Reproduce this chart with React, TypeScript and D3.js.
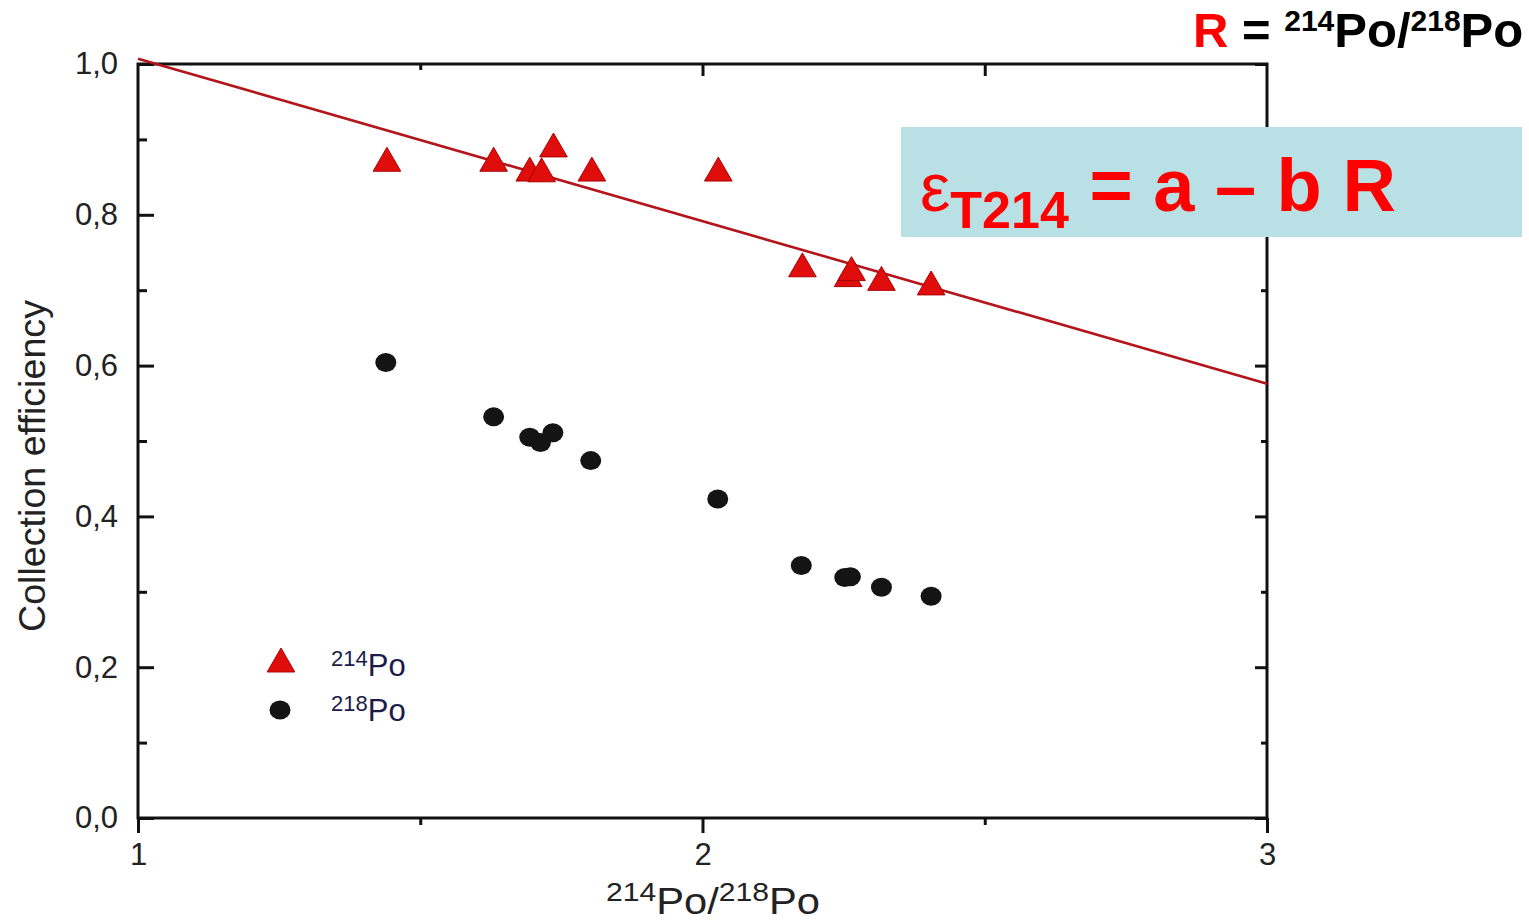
import React, { useEffect, useRef } from 'react';
import * as d3 from 'd3';

// ratio 214Po/218Po
const ratioPo214 = [1.441, 1.630, 1.694, 1.715, 1.736, 1.804, 2.028, 2.177, 2.258, 2.264, 2.317, 2.405];
const effPo214 = [0.871, 0.871, 0.858, 0.857, 0.890, 0.858, 0.858, 0.731, 0.718, 0.726, 0.713, 0.707];

const ratioPo218 = [1.439, 1.630, 1.694, 1.713, 1.735, 1.802, 2.027, 2.175, 2.252, 2.262, 2.317, 2.405];
const effPo218 = [0.604, 0.532, 0.505, 0.498, 0.511, 0.474, 0.423, 0.335, 0.319, 0.320, 0.306, 0.294];

// linear fit eps = a - b R
const fitA = 1.2225;
const fitB = 0.2155;

const xMajor = [1, 2, 3];
const xMinor = [1.5, 2.5];
const yMajor = [0, 0.2, 0.4, 0.6, 0.8, 1.0];
const yMinor = [0.1, 0.3, 0.5, 0.7, 0.9];

const W = 1529;
const H = 923;

export default function App() {
  const axesRef = useRef<SVGGElement>(null);

  const x = d3.scaleLinear().domain([1, 3]).range([138, 1267]);
  const y = d3.scaleLinear().domain([0, 1]).range([818, 64]);

  useEffect(() => {
    const g = d3.select(axesRef.current);
    g.selectAll('*').remove();
    const fmt = (d: number) => d.toFixed(1).replace('.', ',');

    // left axis, ticks inward
    const left = g.append('g').attr('transform', `translate(${x(1)},0)`);
    left.call(d3.axisLeft(y).tickValues(yMajor).tickSize(-16).tickPadding(20).tickFormat(fmt as any));
    left.append('g').call(d3.axisLeft(y).tickValues(yMinor).tickSize(-9).tickFormat(() => ''));

    // right axis, ticks inward
    const right = g.append('g').attr('transform', `translate(${x(3)},0)`);
    right.call(d3.axisRight(y).tickValues(yMajor).tickSize(-12).tickFormat(() => ''));
    right.append('g').call(d3.axisRight(y).tickValues(yMinor).tickSize(-6).tickFormat(() => ''));

    // bottom axis, ticks outward
    const bottom = g.append('g').attr('transform', `translate(0,${y(0)})`);
    bottom.call(d3.axisBottom(x).tickValues(xMajor).tickSize(15).tickPadding(10).tickFormat(d3.format('d') as any));
    bottom.append('g').call(d3.axisBottom(x).tickValues(xMinor).tickSize(7).tickFormat(() => ''));

    // top axis, ticks inward
    const top = g.append('g').attr('transform', `translate(0,${y(1)})`);
    top.call(d3.axisTop(x).tickValues([2, 2.5]).tickSize(-12).tickFormat(() => ''));
    top.append('g').call(d3.axisTop(x).tickValues([1.5]).tickSize(-6).tickFormat(() => ''));

    g.selectAll('.domain').attr('stroke', 'none');
    g.selectAll('.tick line').attr('stroke', '#111').attr('stroke-width', 3);
    g.selectAll('.tick text')
      .attr('font-family', 'Liberation Sans, Arial, sans-serif')
      .attr('font-size', 31)
      .attr('fill', '#222');
  }, []);

  const tri = d3.symbol().type(d3.symbolTriangle).size(330);
  const fitLine = d3.line<number>().x(r => x(r)).y(r => y(fitA - fitB * r));

  const font = 'Liberation Sans, Arial, sans-serif';

  return (
    <svg width={W} height={H} style={{ position: 'absolute', left: 0, top: 0, background: '#fff' }}>
      <rect x={x(1)} y={y(1)} width={x(3) - x(1)} height={y(0) - y(1)} fill="none" stroke="#111" strokeWidth={3} />
      <g ref={axesRef} />

      <path d={fitLine([1, 3]) || ''} fill="none" stroke="#b3151b" strokeWidth={2.6} />

      {ratioPo214.map((r, i) => (
        <path key={'t' + i} d={tri() || ''} transform={`translate(${x(r)},${y(effPo214[i]) + 2})`}
          fill="#e00d0d" stroke="#a00" strokeWidth={1} />
      ))}
      {ratioPo218.map((r, i) => (
        <ellipse key={'c' + i} cx={x(r)} cy={y(effPo218[i])} rx={10.5} ry={9.5} fill="#141414" />
      ))}

      {/* legend */}
      <path d={tri() || ''} transform="translate(281,664)" fill="#e00d0d" stroke="#a00" strokeWidth={1} />
      <ellipse cx={280} cy={710} rx={10.5} ry={9.5} fill="#141414" />
      <text x={331} y={676} fontFamily={font} fill="#1c1c4a">
        <tspan fontSize={22} dy={-10}>214</tspan><tspan fontSize={31} dy={10}>Po</tspan>
      </text>
      <text x={331} y={721} fontFamily={font} fill="#1c1c4a">
        <tspan fontSize={22} dy={-10}>218</tspan><tspan fontSize={31} dy={10}>Po</tspan>
      </text>

      {/* axis titles */}
      <text x={606} y={914} fontFamily={font} fill="#222" textLength={214} lengthAdjust="spacingAndGlyphs">
        <tspan fontSize={26} dy={-13}>214</tspan><tspan fontSize={36} dy={13}>Po/</tspan>
        <tspan fontSize={26} dy={-13}>218</tspan><tspan fontSize={36} dy={13}>Po</tspan>
      </text>
      <text transform="translate(45,466) rotate(-90)" textAnchor="middle" fontFamily={font} fontSize={37}
        fill="#222" textLength={332} lengthAdjust="spacingAndGlyphs">
        Collection efficiency
      </text>

      {/* top-right definition */}
      <text x={1193} y={47} fontFamily={font} fontWeight="bold" fill="#000">
        <tspan fill="#f00" fontSize={49}>R</tspan>
        <tspan fontSize={49}> = </tspan>
        <tspan fontSize={30} dy={-16}>214</tspan><tspan fontSize={49} dy={16}>Po/</tspan>
        <tspan fontSize={30} dy={-16}>218</tspan><tspan fontSize={49} dy={16}>Po</tspan>
      </text>

      {/* formula box */}
      <rect x={901} y={127} width={621} height={110} fill="#b9e0e4" />
      <text x={920} y={211} fontFamily={font} fill="#f00" fontWeight="bold">
        <tspan fontSize={68} fontWeight="normal">ε</tspan>
        <tspan fontSize={52} dy={17}>T214</tspan>
        <tspan fontSize={74} dy={-17}> = a – b R</tspan>
      </text>
    </svg>
  );
}
